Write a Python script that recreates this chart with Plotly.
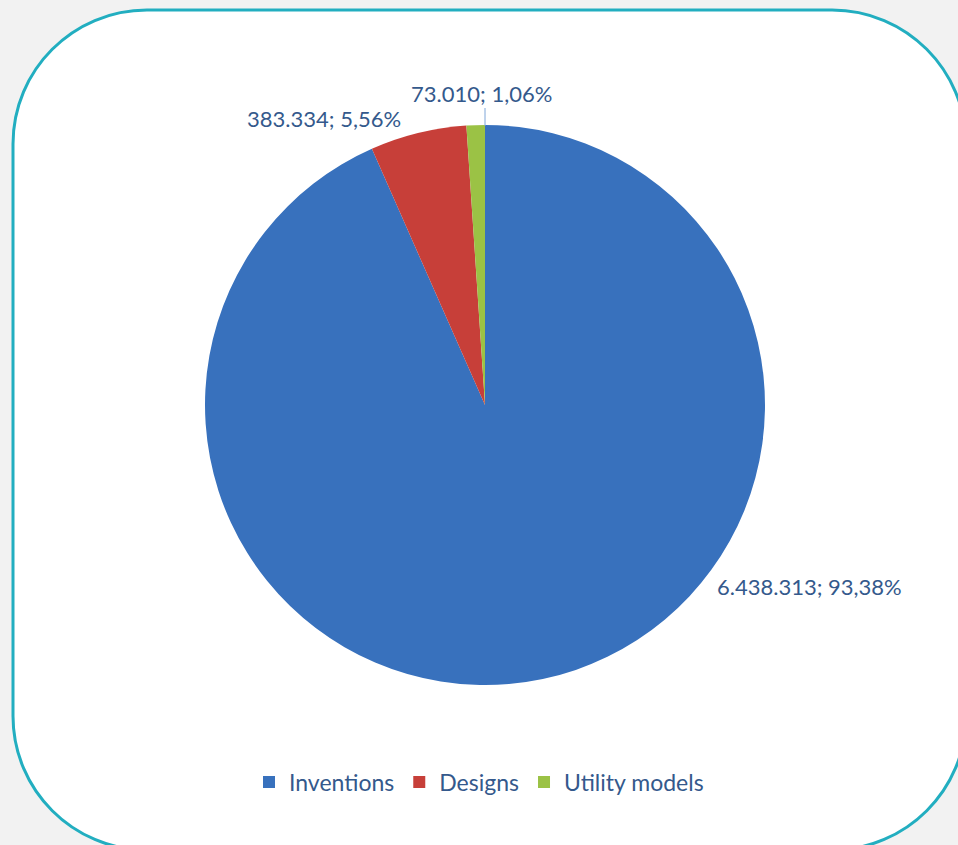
import plotly.graph_objects as go

categories = ["Inventions", "Designs", "Utility models"]
values = [6438313, 383334, 73010]
label_texts = ["6.438.313; 93,38%", "383.334; 5,56%", "73.010; 1,06%"]
colors = ["#3871bd", "#c73f39", "#9bc245"]

W, H = 958, 845
TXT = "#34598c"
FONT = "Lato, Calibri, 'Open Sans', sans-serif"

def px(x):
    return x / W

def py(y):
    return 1 - y / H

fig = go.Figure()
fig.add_trace(go.Pie(
    labels=categories,
    values=values,
    sort=False,
    direction="clockwise",
    rotation=0,
    textinfo="none",
    hoverinfo="label+value+percent",
    marker=dict(colors=colors, line=dict(width=0)),
    domain=dict(x=[px(205), px(765)], y=[py(685), py(125)]),
))

# rounded rectangle frame (circular corners via cubic Beziers)
x0, y0, x1, y1, r = 13, 10, 966, 850, 134
k = 0.5523 * r
def P(x, y):
    return f"{px(x)},{py(y)}"
path = (
    f"M {P(x0+r, y0)} L {P(x1-r, y0)} "
    f"C {P(x1-r+k, y0)} {P(x1, y0+r-k)} {P(x1, y0+r)} "
    f"L {P(x1, y1-r)} "
    f"C {P(x1, y1-r+k)} {P(x1-r+k, y1)} {P(x1-r, y1)} "
    f"L {P(x0+r, y1)} "
    f"C {P(x0+r-k, y1)} {P(x0, y1-r+k)} {P(x0, y1-r)} "
    f"L {P(x0, y0+r)} "
    f"C {P(x0, y0+r-k)} {P(x0+r-k, y0)} {P(x0+r, y0)} Z"
)
fig.add_shape(type="path", path=path, xref="paper", yref="paper",
              fillcolor="white", line=dict(color="#22aec0", width=3), layer="below")

label_pos = [(809, 586), (324, 118), (481, 94)]
for t, (lx, ly) in zip(label_texts, label_pos):
    fig.add_annotation(x=px(lx), y=py(ly), xref="paper", yref="paper", text=t,
                       showarrow=False, font=dict(family=FONT, size=22, color=TXT),
                       xanchor="center", yanchor="middle")

# leader line for small slice
fig.add_shape(type="line", xref="paper", yref="paper",
              x0=px(485), x1=px(485), y0=py(108), y1=py(126),
              line=dict(color="#7fa6d8", width=1))

fig.update_layout(
    width=W, height=H,
    margin=dict(l=0, r=0, t=0, b=0),
    paper_bgcolor="#f2f2f2",
    plot_bgcolor="#f2f2f2",
    showlegend=True,
    legend=dict(orientation="h", x=0.5, xanchor="center", y=py(782), yanchor="middle",
                font=dict(family=FONT, size=23, color=TXT), bgcolor="rgba(0,0,0,0)",
                itemwidth=30),
)

fig.write_html(
    "out.html",
    config={"displayModeBar": False},
    post_script="document.body.style.margin='0';document.body.style.background='#f2f2f2';",
)
